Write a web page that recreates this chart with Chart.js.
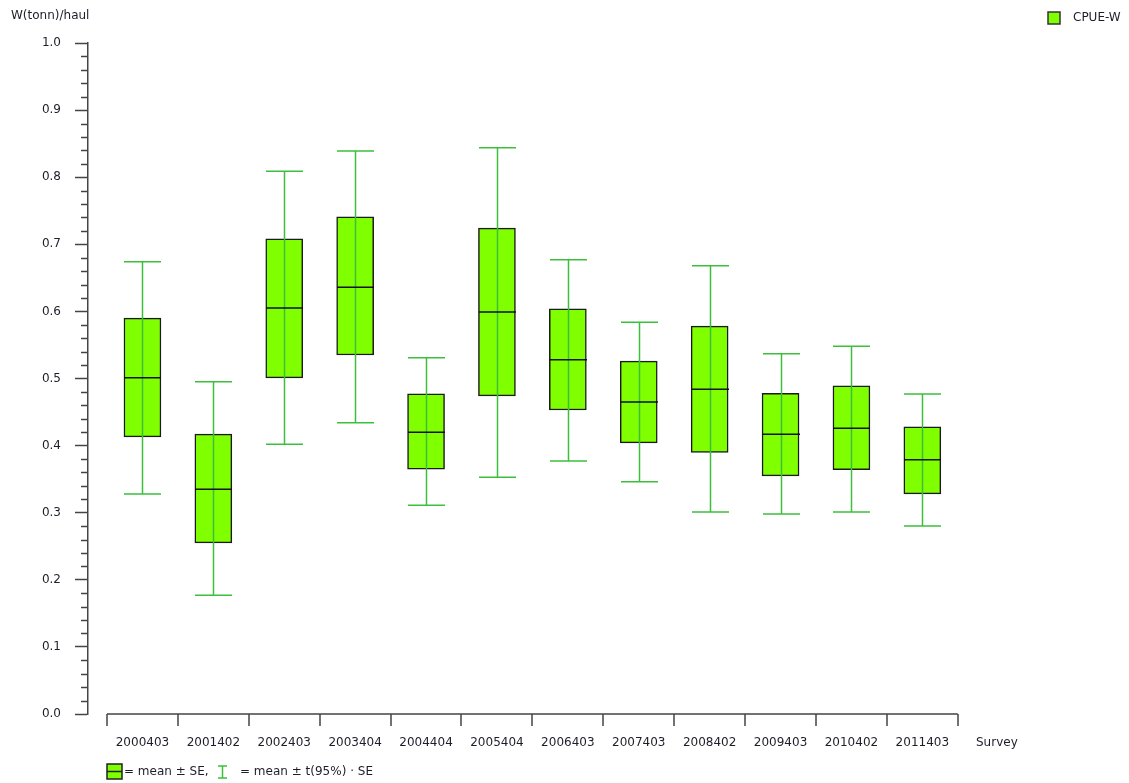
<!DOCTYPE html>
<html>
<head>
<meta charset="utf-8">
<title>CPUE-W by survey</title>
<script src="https://cdn.jsdelivr.net/npm/chart.js@4.4.1/dist/chart.umd.min.js"></script>
<style>
    html, body { margin: 0; padding: 0; background: #fff; }
    #wrap { width: 1129px; height: 783px; }
</style>
</head>
<body>
<div id="wrap"><canvas id="cpueChart" width="1129" height="783"></canvas></div>
<script>
// Survey codes and CPUE (tonnes per haul) summary per survey
const surveys = ['2000403', '2001402', '2002403', '2003404', '2004404', '2005404',
                 '2006403', '2007403', '2008402', '2009403', '2010402', '2011403'];
const means  = [0.501, 0.335, 0.605, 0.636, 0.420, 0.599, 0.528, 0.465, 0.484, 0.417, 0.426, 0.379];
const seHigh = [0.590, 0.417, 0.708, 0.741, 0.477, 0.724, 0.604, 0.526, 0.578, 0.478, 0.489, 0.428];
const seLow  = [0.413, 0.255, 0.501, 0.535, 0.365, 0.474, 0.453, 0.404, 0.390, 0.355, 0.364, 0.328];
const ciHigh = [0.674, 0.495, 0.809, 0.839, 0.531, 0.844, 0.677, 0.584, 0.668, 0.537, 0.548, 0.477];
const ciLow  = [0.328, 0.177, 0.402, 0.434, 0.311, 0.353, 0.377, 0.346, 0.301, 0.298, 0.301, 0.280];
const yTicks = [0.0, 0.1, 0.2, 0.3, 0.4, 0.5, 0.6, 0.7, 0.8, 0.9, 1.0];

const FONT = '12px "DejaVu Sans"';
const TEXT = '#1e1e2a';
const AXIS = '#444';
const BOX_FILL = '#80ff00';
const WHISKER = '#3cc03c';

// whiskers (mean ± t·SE) and mean line on top of the SE boxes
const boxPlot = {
    id: 'boxPlot',
    afterDatasetsDraw(chart) {
        const { ctx, scales: { x, y } } = chart;
        const half = 18.5;
        ctx.save();
        surveys.forEach((s, i) => {
            const cx = Math.round(x.getPixelForValue(i)) + 0.5;
            const top = y.getPixelForValue(ciHigh[i]);
            const bot = y.getPixelForValue(ciLow[i]);
            ctx.strokeStyle = WHISKER;
            ctx.lineWidth = 1.5;
            ctx.beginPath();
            ctx.moveTo(cx, top); ctx.lineTo(cx, bot);
            ctx.moveTo(cx - half, top); ctx.lineTo(cx + half, top);
            ctx.moveTo(cx - half, bot); ctx.lineTo(cx + half, bot);
            ctx.stroke();

            const my = y.getPixelForValue(means[i]);
            ctx.strokeStyle = '#111';
            ctx.beginPath();
            ctx.moveTo(cx - half, my); ctx.lineTo(cx + half, my);
            ctx.stroke();
        });
        ctx.restore();
    }
};

// hand-drawn x axis, minor y ticks, titles and legends
const decorations = {
    id: 'decorations',
    afterDraw(chart) {
        const { ctx, chartArea, scales: { x, y } } = chart;
        const axisY = chartArea.bottom;
        const left = x.getPixelForValue(-0.5);
        const right = x.getPixelForValue(surveys.length - 0.5);
        ctx.save();
        ctx.strokeStyle = AXIS;
        ctx.lineWidth = 1.5;

        // x axis line with category boundary ticks
        ctx.beginPath();
        ctx.moveTo(left, axisY); ctx.lineTo(right, axisY);
        for (let i = 0; i <= surveys.length; i++) {
            const px = Math.round(x.getPixelForValue(i - 0.5));
            ctx.moveTo(px, axisY); ctx.lineTo(px, axisY + 12);
        }
        // minor y ticks every 0.02
        for (let k = 1; k < 50; k++) {
            if (k % 5 === 0) continue;
            const py = Math.round(y.getPixelForValue(k / 50)) + 0.5;
            ctx.moveTo(chartArea.left - 7, py); ctx.lineTo(chartArea.left, py);
        }
        ctx.stroke();

        ctx.font = FONT;
        ctx.fillStyle = TEXT;
        ctx.textBaseline = 'middle';
        ctx.textAlign = 'center';
        surveys.forEach((s, i) => ctx.fillText(s, x.getPixelForValue(i), axisY + 29));

        ctx.textAlign = 'left';
        ctx.fillText('Survey', 976, axisY + 29);
        ctx.fillText('W(tonn)/haul', 11, 16);

        // series legend, top right
        ctx.fillStyle = BOX_FILL;
        ctx.fillRect(1048, 12, 12, 12);
        ctx.strokeStyle = '#333';
        ctx.lineWidth = 1.5;
        ctx.strokeRect(1048, 12, 12, 12);
        ctx.fillStyle = TEXT;
        ctx.fillText('CPUE-W', 1073, 18);

        // symbol key, bottom left
        ctx.fillStyle = BOX_FILL;
        ctx.fillRect(107, 764, 15, 15);
        ctx.strokeStyle = '#222';
        ctx.strokeRect(107, 764, 15, 15);
        ctx.beginPath();
        ctx.moveTo(107, 771.5); ctx.lineTo(122, 771.5);
        ctx.stroke();
        ctx.fillStyle = TEXT;
        ctx.fillText('= mean \u00b1 SE,', 124, 772);

        ctx.strokeStyle = WHISKER;
        ctx.beginPath();
        ctx.moveTo(218, 766); ctx.lineTo(227, 766);
        ctx.moveTo(222.5, 766); ctx.lineTo(222.5, 778);
        ctx.moveTo(218, 778); ctx.lineTo(227, 778);
        ctx.stroke();
        ctx.fillStyle = TEXT;
        ctx.fillText('= mean \u00b1 t(95%) \u00b7 SE', 240, 772);
        ctx.restore();
    }
};

const ctx = document.getElementById('cpueChart').getContext('2d');
new Chart(ctx, {
    type: 'bar',
    data: {
        datasets: [{
            label: 'CPUE-W',
            data: surveys.map((s, i) => ({ x: i, y: [seLow[i], seHigh[i]] })),
            backgroundColor: BOX_FILL,
            borderColor: '#1a1a1a',
            borderWidth: 1.5,
            borderSkipped: false,
            barThickness: 37
        }]
    },
    options: {
        responsive: false,
        animation: false,
        devicePixelRatio: 1,
        layout: { padding: { top: 43, right: 171, bottom: 69, left: 0 } },
        plugins: {
            legend: { display: false },
            tooltip: { enabled: false }
        },
        scales: {
            x: {
                type: 'linear',
                min: -0.768,
                max: 11.503,
                offset: false,
                display: false
            },
            y: {
                min: 0,
                max: 1,
                afterFit(scale) { scale.width = 88; },
                afterBuildTicks(scale) { scale.ticks = yTicks.map(v => ({ value: v })); },
                ticks: {
                    padding: 14,
                    font: { family: 'DejaVu Sans', size: 12 },
                    color: TEXT,
                    callback: v => v.toFixed(1)
                },
                grid: {
                    drawOnChartArea: false,
                    tickLength: 13,
                    tickColor: AXIS,
                    tickWidth: 1.5
                },
                border: { color: AXIS, width: 1.5 }
            }
        }
    },
    plugins: [boxPlot, decorations]
});
</script>
</body>
</html>
